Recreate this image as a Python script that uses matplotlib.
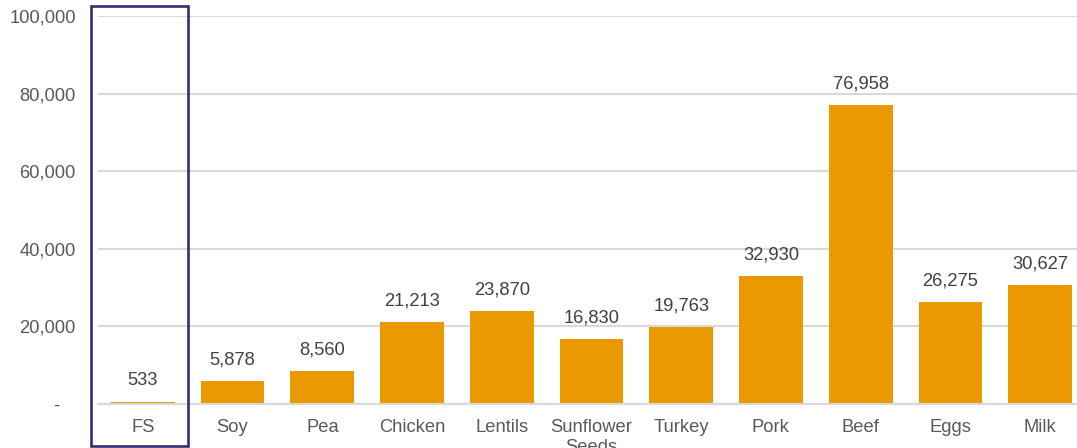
import matplotlib.pyplot as plt
from matplotlib.patches import Rectangle
from matplotlib.ticker import FuncFormatter

plt.rcParams['font.family'] = ['Liberation Sans', 'DejaVu Sans']

# data
categories = ["FS", "Soy", "Pea", "Chicken", "Lentils", "Sunflower\nSeeds",
              "Turkey", "Pork", "Beef", "Eggs", "Milk"]
values = [533, 5878, 8560, 21213, 23870, 16830, 19763, 32930, 76958, 26275, 30627]
highlight = "FS"

bar_color = "#EA9A00"
text_color = "#595959"
grid_color = "#D9D9D9"

fig = plt.figure(figsize=(10.77, 4.48), dpi=100)
ax = fig.add_axes([0.091, 0.0982, 0.9164, 0.866])

x = list(range(len(categories)))
ax.bar(x, values, width=0.71, color=bar_color, zorder=3)

for xi, v in zip(x, values):
    ax.annotate(f"{v:,}", (xi, v), xytext=(0, 9), textcoords="offset points",
                ha="center", va="bottom", fontsize=13.2, color="#404040")

ax.set_xlim(-0.5, len(categories) - 0.5)
ax.set_ylim(0, 100000)
ax.set_yticks(range(0, 100001, 20000))
ax.yaxis.set_major_formatter(FuncFormatter(lambda v, p: "-   " if v == 0 else f"{int(v):,}"))
ax.set_xticks(x)
ax.set_xticklabels(categories)

ax.grid(axis="y", color=grid_color, linewidth=1.5, zorder=0)
for s in ["top", "right", "left"]:
    ax.spines[s].set_visible(False)
ax.spines["bottom"].set_color(grid_color)
ax.spines["bottom"].set_linewidth(1.5)
ax.spines["bottom"].set_zorder(4)

ax.tick_params(axis="both", length=0, labelsize=13.2, colors=text_color)
ax.tick_params(axis="x", pad=11)
ax.tick_params(axis="y", pad=16)

# highlight box round FS
hi = categories.index(highlight)
box = Rectangle((hi - 0.58, -10800), 1.08, 113400, fill=False,
                edgecolor="#3B2A6E", linewidth=1.9, clip_on=False, zorder=5)
ax.add_patch(box)

plt.savefig("out.png", dpi=100)
